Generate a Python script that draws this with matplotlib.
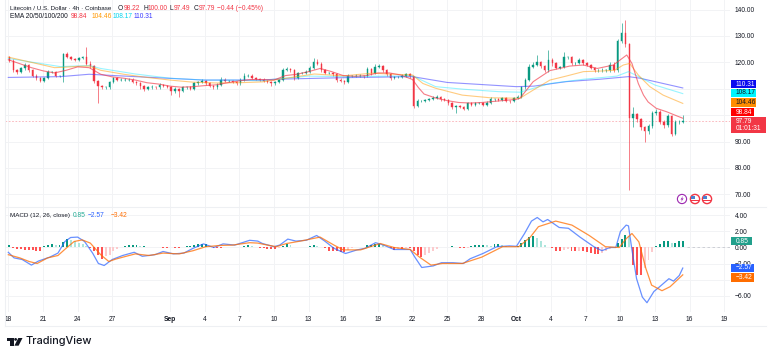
import numpy as np
import matplotlib
matplotlib.use('Agg')
import matplotlib.pyplot as plt
from matplotlib.patches import Rectangle, Circle, Polygon
from matplotlib.transforms import Affine2D

plt.rcParams['font.family'] = ['Liberation Sans', 'DejaVu Sans']

# 8h bars, one row per day from Aug 18 (close, upper wick, lower wick)
first_open = 122.0
closes = [
    120.5, 117, 116.5,   117.8, 119, 117,   115, 114, 113,   114, 116.5, 116.5,
    115, 115, 123,   122, 121.2, 121,   121.5, 122, 119.5,   118.5, 113, 111,
    110.5, 110.5, 112.5,   114, 113.5, 113.5,   113.5, 113.5, 112.6,   112, 111, 110,
    110.5, 110.8, 110.5,   111.5, 111, 110.8,   109, 110, 109,   110.5, 110.5, 110,
    112, 112.5, 113,   112, 111, 110.5,   111.5, 113.5, 113,   113, 112.5, 112,
    113.5, 115, 115,   114, 113.8, 113.5,   113, 112.5, 112,   112.7, 113.3, 117,
    117.5, 117, 114,   116, 116, 116.5,   118, 120.3, 119.5,   117, 116, 116,
    115.5, 113.5, 113,   112.7, 115, 115,   115, 115, 114.7,   117.5, 116, 118.4,
    118.6, 117, 115.5,   114, 114.5, 114.5,   115, 115.5, 114.7,   103.5, 105.5, 105.5,
    105.7, 106, 106.5,   107, 106, 105.7,   104.5, 103.2, 103.5,   103.2, 102.5, 104.5,
    104, 104.5, 104.5,   104, 104.7, 106,   106, 105.8, 106.4,   105.5, 105.2, 106.4,
    107, 110.5, 113.3,   118.4, 119, 120,   118.5, 117, 121,   119.6, 118, 118.3,
    122, 122, 119.6,   119.6, 120.9, 119.6,   119, 118, 117,   117, 117, 117,
    119, 117, 128,   131, 127, 99,   100.5, 98.5, 95.5,   94, 96, 100.7,
    101.3, 97.5, 96.3,   99.5, 93, 97.5,   97.5, 97.79,
]
wick_up = [
    0.5, 0.6, 0.5,   0.5, 0.8, 0.5,   0.4, 0.5, 0.4,   0.5, 0.8, 0.4,
    0.4, 0.4, 0.5,   1, 0.5, 0.6,   0.5, 0.6, 4,   1, 0.5, 0.5,
    0.5, 0.4, 0.5,   0.5, 0.5, 0.4,   0.4, 0.5, 0.4,   0.4, 0.4, 0.5,
    0.4, 0.5, 0.4,   0.5, 0.4, 0.4,   0.4, 0.5, 0.4,   0.5, 0.4, 0.4,
    0.5, 0.5, 0.6,   0.5, 0.4, 0.4,   0.5, 1, 0.5,   0.4, 0.4, 0.4,
    0.5, 0.8, 0.6,   0.5, 0.4, 0.4,   0.4, 0.4, 0.4,   0.4, 0.5, 0.9,
    0.8, 0.5, 0.5,   0.5, 0.5, 0.5,   0.8, 1.2, 1,   0.5, 0.5, 0.4,
    0.5, 0.5, 0.4,   0.4, 0.5, 0.4,   0.5, 0.5, 0.4,   0.8, 0.5, 1,
    0.8, 0.5, 0.4,   0.5, 0.4, 0.4,   0.5, 0.5, 0.6,   0.3, 0.5, 0.4,
    0.4, 0.5, 0.8,   0.5, 0.4, 0.4,   0.4, 0.4, 0.4,   0.4, 0.4, 0.5,
    0.4, 0.5, 0.4,   0.4, 0.5, 0.8,   0.5, 0.4, 0.5,   0.4, 0.4, 0.5,
    0.5, 0.5, 0.8,   1, 1, 2.8,   0.5, 0.5, 3.7,   0.5, 0.5, 0.5,
    2, 0.6, 0.5,   0.5, 0.8, 0.5,   0.4, 0.5, 0.4,   0.5, 0.8, 0.6,
    1, 1, 1,   4, 5, 0.3,   2.5, 0.5, 0.5,   0.5, 0.5, 0.8,
    1, 0.5, 0.5,   1, 0.5, 0.8,   0.6, 2.2,
]
wick_dn = [
    0.5, 0.5, 0.8,   0.4, 0.5, 0.8,   0.5, 0.8, 0.6,   0.5, 0.4, 0.4,
    0.5, 0.4, 2.6,   0.5, 0.4, 0.5,   0.4, 0.4, 0.5,   0.5, 0.8, 6.4,
    0.5, 0.6, 0.4,   0.4, 0.5, 0.4,   0.4, 0.5, 0.5,   0.5, 1, 1,
    0.5, 0.4, 0.5,   0.4, 0.5, 0.5,   1.3, 0.5, 2.2,   0.4, 0.5, 0.5,
    0.5, 0.4, 0.4,   0.5, 0.5, 0.5,   0.6, 0.4, 0.5,   0.4, 0.4, 0.5,
    0.4, 0.4, 0.5,   0.4, 0.4, 0.5,   0.5, 0.5, 0.8,   0.4, 0.4, 0.4,
    0.4, 0.5, 0.6,   0.4, 0.5, 0.4,   0.4, 0.4, 0.5,   0.6, 0.5, 0.5,
    0.5, 0.8, 0.6,   0.8, 0.4, 0.5,   0.5, 0.4, 0.5,   0.4, 0.6, 0.4,
    0.4, 0.5, 0.8,   0.6, 0.4, 0.5,   0.4, 0.4, 0.5,   0.9, 0.4, 0.5,
    0.4, 0.4, 0.4,   0.4, 0.5, 0.5,   0.6, 0.8, 2.5,   0.5, 0.5, 0.4,
    0.5, 0.4, 0.4,   0.5, 0.4, 0.4,   0.5, 0.5, 0.4,   0.5, 0.5, 0.4,
    0.4, 0.4, 0.4,   0.5, 0.5, 0.5,   0.5, 0.6, 0.5,   0.8, 0.6, 0.5,
    0.4, 0.6, 0.5,   0.5, 0.4, 0.5,   0.5, 0.6, 0.5,   0.6, 0.6, 0.5,
    0.5, 0.6, 0.5,   0.5, 1, 27.4,   3.4, 1, 1,   4, 1, 0.8,
    0.8, 0.8, 1,   0.8, 1, 0.5,   0.8, 0.5,
]
hist = [
    0.3, -0.1, -0.2,   -0.2, -0.3, -0.3,   -0.3, -0.4, -0.4,   0.2, 0.35, 0.4,
    0.3, 0.3, 0.7,   1.0, 0.9, 0.8,   0.5, 0.4, 0.2,   -0.1, -0.5, -0.9,
    -1.4, -1.1, -0.9,   -0.4, -0.2, 0.1,   0.2, 0.3, 0.3,   0.3, 0.2, 0.2,
    0.1, 0.1, 0.1,   0.1, -0.1, -0.1,   0.1, -0.1, -0.1,   0.1, 0.15, 0.2,
    0.3, 0.4, 0.4,   0.4, 0.2, -0.1,   -0.1, -0.1, 0.1,   0.1, 0.1, 0.1,
    0.1, 0.2, 0.3,   0.2, 0.1, -0.1,   -0.1, -0.2, -0.2,   -0.2, -0.1, 0.2,
    0.4, 0.3, 0.1,   0.05, 0.1, 0.1,   0.2, 0.25, 0.2,   0.1, -0.1, -0.4,
    -0.5, -0.5, -0.6,   -0.6, -0.3, -0.1,   0.05, 0.05, 0.1,   0.3, 0.3, 0.4,
    0.4, 0.3, 0.1,   -0.1, -0.3, -0.2,   -0.2, -0.1, -0.1,   -0.4, -1.0, -1.2,
    -0.9, -0.7, -0.4,   -0.2, 0.05, 0.1,   0.1, 0.2, 0.1,   -0.05, -0.1, -0.05,
    0.2, 0.3, 0.35,   0.35, 0.3, 0.2,   0.4, 0.45, 0.3,   0.2, 0.1, 0.05,
    0.2, 0.6, 0.9,   1.3, 1.4, 1.2,   0.8, 0.3, 0.1,   -0.1, -0.4, -0.5,
    -0.3, -0.2, -0.4,   -0.5, -0.4, -0.5,   -0.6, -0.7, -0.8,   -0.8, -0.7, -0.5,
    -0.2, 0.05, 0.6,   1.1, 1.5, 1.4,   -2.2, -3.4, -3.4,   -2.6, -1.5, -0.6,
    0.15, 0.4, 0.8,   0.85, 0.5, 0.5,   0.75, 0.85,
]

ema20_days = [0, 1, 2, 3, 4, 5, 6, 7, 8, 9, 10, 11, 12, 13, 14, 15, 16, 17, 18, 19, 20, 21, 22, 23,
              24, 25, 26, 27, 28, 29, 30, 31, 32, 33, 34, 35, 35.5, 36, 37, 38, 39, 40, 41, 42, 43, 44,
              44.3, 45.45, 46, 46.9, 47.75, 48.6, 49.8, 51, 52.4, 53, 53.55, 54, 54.55, 55, 55.4,
              56.1, 57, 57.9, 58.4]
ema20 = [121, 119.5, 118, 116.8, 116, 117, 118.3, 118, 115.5, 114.5, 114, 113.3, 112.3, 111.8, 111,
         110.6, 110.8, 111.2, 111.5, 112.3, 113, 113.5, 113.5, 113.3, 115, 115.5, 116.5, 117.7, 116.5,
         115, 114.7, 115, 116, 116, 115.2, 113.5, 110.5, 108, 106.5, 105.5, 104.8, 104.6, 104.8, 105.2,
         105.6, 106, 106.4, 112.7, 114.3, 116.9, 117.7, 118.6, 119, 117.7, 119, 121, 122.8, 119.6, 112,
         107.6, 105, 102.6, 101.3, 99.7, 98.84]
ema50_days = [0, 1, 2, 3, 4, 5, 6, 7, 8, 10, 12, 14, 16, 18, 20, 22, 23, 26.5, 29, 31.5, 35, 35.9,
              37, 39.3, 41.7, 44.3, 45.45, 46.9, 48.3, 49.8, 51.2, 52.5, 53.25, 53.8, 54.55, 55.55,
              56.7, 58.4]
ema50 = [122, 121, 120, 119, 118, 118.2, 118.5, 118.6, 117, 115.5, 114.3, 113.3, 112.5, 112.2, 112.3,
         112.6, 113.3, 115.6, 114.9, 115.9, 115.2, 112, 110.2, 107.6, 106.6, 106.4, 109.5, 113.3, 114.8,
         116.5, 116.7, 117, 119, 119.6, 115.2, 110.8, 107.6, 104.46]
ema100_days = [0, 4.5, 7, 8, 11, 14, 17, 19.5, 22, 23, 26, 29, 35, 37, 39.5, 42.5, 44.3, 46.9, 49.8,
               52.7, 53.7, 54.7, 56, 58.4]
ema100 = [121.5, 118.4, 118.8, 117.7, 115.6, 114, 113.3, 113.3, 113, 113.6, 114.8, 114.6, 114.9,
          110.8, 109.8, 108.9, 108.7, 112, 113.6, 114.8, 116.5, 114.3, 111.4, 108.17]
ema200_days = [0, 4.5, 7, 11, 17, 22, 23, 29, 35, 38, 44, 45.5, 48.3, 51.2, 53.7, 54.7, 58.4]
ema200 = [114.3, 114.6, 115.5, 114.6, 113.3, 113.3, 113.6, 114.2, 114.6, 112.4, 110.8, 111, 112.7,
          113.6, 114.6, 114, 110.31]

macd_days = [0, 0.5, 1.2, 2, 2.6, 3.6, 4.3, 4.9, 5.4, 6, 6.6, 7.3, 7.8, 8.3, 9, 9.9, 10.9, 11.6, 12.7,
             13.4, 14.3, 15.2, 16, 16.9, 17.8, 18.6, 19.6, 20.9, 21.6, 22, 23, 23.5, 24.2, 24.9, 25.8,
             26.7, 27.4, 28.2, 29.2, 30.2, 30.9, 31.8, 32.5, 33.4, 34.8, 35.2, 35.8, 36.8, 37.5, 38.5,
             39.4, 40, 41.1, 42.3, 43.4, 44, 44.7, 45.3, 45.8, 46.3, 46.7, 47.7, 48.5, 49.5, 50.7, 51.4,
             52.1, 52.6, 53, 53.5, 53.7, 54, 54.4, 54.9, 55.3, 55.9, 56.4, 57.2, 57.6, 58.1, 58.4]
macd = [-0.6, -1.3, -1.5, -2.2, -1.7, -1.2, -0.7, 0.75, 1.25, 1.3, 0.75, -0.7, -2, -2.25, -1.5, -1,
        -0.6, -1.1, -0.9, -0.5, -0.8, -0.7, -0.1, 0.45, 0, 0.45, 0.3, 0.9, 0.8, 0.5, 0.1, 0.3, 1.05,
        0.8, 0.9, 1.5, 0.8, -0.1, -0.75, -0.3, -0.1, 0.6, 0.3, -0.25, -0.25, -1.2, -2.5, -2.3, -1.9,
        -1.9, -2, -1.4, -0.75, 0.1, 0.2, 0.15, 1.75, 3.3, 3.75, 3.2, 3.5, 2.5, 2.4, 1.3, 0.1, -0.4,
        0, 0, 2, 2.8, 2.7, -0.3, -3.9, -6.2, -6.9, -5.5, -4.9, -3.9, -4.2, -3.5, -2.57]
signal_days = [0, 1, 1.8, 2.5, 3.4, 4.3, 5, 5.7, 6.4, 7.1, 8, 8.7, 9.3, 10.2, 11, 12.2, 13.4, 14.8,
               16, 17.1, 18.3, 19.4, 20.9, 21.6, 22.1, 23.2, 24.1, 25.3, 27, 28.2, 29, 30.5, 32.2, 33.4,
               34.8, 35.6, 36.6, 37.6, 39.3, 41, 42.8, 44.2, 45.2, 45.9, 47.4, 48.8, 50.3, 51.7, 52.9,
               53.5, 54, 54.6, 55.2, 55.7, 56.6, 57.3, 58.4]
signal = [-0.9, -1.3, -1.75, -2, -1.3, -1, -0.1, 0.75, 0.95, 0.55, -0.9, -1.75, -1.45, -1.1, -0.8,
          -1, -0.7, -0.8, -0.4, 0.1, 0.25, 0.3, 0.6, 0.55, 0.4, 0.1, 0.5, 0.8, 1.3, 0.3, -0.3, -0.3,
          0.5, 0, -0.25, -1.2, -2.2, -2, -2, -1.2, 0.1, 0.1, 1.3, 2.6, 3.3, 2.8, 1.5, 0.1, 0, 1.1,
          1.75, 0.7, -2.6, -4.7, -5.4, -4.9, -3.42]

tick_days = [0, 3, 6, 9, 14, 17, 20, 23, 26, 29, 32, 35, 38, 41, 44, 47, 50, 53, 56, 59, 62]
tick_labels = ['18', '21', '24', '27', 'Sep', '4', '7', '10', '13', '16', '19', '22', '25', '28',
               'Oct', '4', '7', '10', '13', '16', '19']
price_ticks = [70, 80, 90, 100, 110, 120, 130, 140]
price_labels = ['70.00', '80.00', '90.00', '', '', '120.00', '130.00', '140.00']
macd_ticks = [-6, -4, -2, 0, 2, 4]
macd_labels = ['\u22126.00', '', '\u22122.00', '0.00', '2.00', '4.00']
last_price = 97.79

UP = '#089981'
DOWN = '#F23645'
GRID = '#F2F3F5'
TEXT = '#131722'
W, H = 768, 358

fig = plt.figure(figsize=(W / 100, H / 100), dpi=100, facecolor='white')
# everything outside the panes is placed in reference pixels
px = Affine2D().scale(1 / W, -1 / H).translate(0, 1) + fig.transFigure


def pane(top, bottom):
    return fig.add_axes([5 / W, 1 - bottom / H, 725 / W, (bottom - top) / H])


ax = pane(0, 207)
ax2 = pane(207, 312)
xlim = (-0.286, 62.49)

n = len(closes)
x = np.arange(n) / 3 + 0.1
c = np.array(closes)
o = np.r_[first_open, c[:-1]]
hi = np.maximum(o, c) + np.array(wick_up)
lo = np.minimum(o, c) - np.array(wick_dn)
cols = [UP if b >= a else DOWN for a, b in zip(o, c)]

ax.vlines(x, lo, hi, colors=cols, lw=0.6, alpha=0.75, zorder=3)
ax.bar(x, np.abs(c - o), bottom=np.minimum(o, c), width=0.13, color=cols,
       edgecolor=cols, lw=0.3, zorder=4)
for d, v, col, a in [(ema200_days, ema200, '#3A3AFF', 0.55), (ema100_days, ema100, '#00E5FF', 0.4),
                     (ema50_days, ema50, '#FF9800', 0.5), (ema20_days, ema20, '#F23645', 0.65)]:
    ax.plot(d, v, color=col, lw=0.8, alpha=a, zorder=5)
ax.axhline(last_price, color='#F23645', lw=0.6, ls=(0, (2, 2)), alpha=0.4, zorder=2)
ax.set_ylim(65.2, 143.64)
ax.set_yticks(price_ticks)
ax.set_yticklabels(price_labels)

h = np.array(hist)
prev = np.r_[h[0], h[:-1]]
hcols = []
for a, b in zip(prev, h):
    if b >= 0:
        hcols.append('#089981' if b >= a else '#ACE5DC')
    else:
        hcols.append('#FF5252' if b <= a else '#FCCBCD')
ax2.bar(x, h, width=0.17, color=hcols, zorder=3)
ax2.plot(macd_days, macd, color='#2962FF', lw=0.9, alpha=0.7, zorder=5)
ax2.plot(signal_days, signal, color='#FF6D00', lw=0.9, alpha=0.75, zorder=6)
ax2.plot([x[-1] + 0.3, xlim[1]], [0, 0], color='#C8CAD0', lw=0.6, ls=(0, (3, 3)), zorder=2)
ax2.set_ylim(-8.06, 5.06)
ax2.set_yticks(macd_ticks)
ax2.set_yticklabels(macd_labels)

for a in (ax, ax2):
    a.set_xlim(*xlim)
    a.set_xticks(tick_days)
    a.grid(True, color=GRID, lw=0.7, zorder=0)
    a.set_axisbelow(True)
    a.yaxis.tick_right()
    a.tick_params(axis='y', length=0, pad=3.5, labelsize=4.8, labelcolor=TEXT)
    for s in a.spines.values():
        s.set_visible(False)
ax.tick_params(axis='x', length=0, labelbottom=False)
ax2.tick_params(axis='x', length=0, pad=3, labelsize=4.8, labelcolor=TEXT)
ax2.set_xticklabels(tick_labels)
for lab in ax2.get_xticklabels():
    if lab.get_text() in ('Sep', 'Oct'):
        lab.set_fontweight('bold')

# frame lines of the panes
for xs, ys in [((5, 766), (207, 207)), ((5, 766), (326, 326)), ((5, 5), (0, 326))]:
    fig.add_artist(plt.Line2D(xs, ys, color='#EEF0F3', lw=0.8, transform=px))


def label(xp, yp, s, color=TEXT, size=4.8, **kw):
    fig.text(xp, yp, s, color=color, fontsize=size, va='center', transform=px, zorder=20, **kw)


# legend rows
label(10, 8, 'Litecoin / U.S. Dollar \u00b7 4h \u00b7 Coinbase', size=4.5)
for xp, s, col in [(118, 'O', TEXT), (123.5, '98.22', DOWN), (143, 'H', TEXT), (147.5, '100.00', DOWN),
                   (170, 'L', TEXT), (173.5, '97.49', DOWN), (194, 'C', TEXT), (198.5, '97.79', DOWN),
                   (217, '\u22120.44 (\u22120.45%)', DOWN)]:
    label(xp, 8, s, col)
label(10, 16.7, 'EMA 20/50/100/200')
for xp, s, col in [(71, '98.84', '#F23645'), (92, '104.46', '#FF9800'), (113, '108.17', '#00D5EE'),
                   (134, '110.31', '#3A3AFF')]:
    label(xp, 16.7, s, col)
label(10, 215.5, 'MACD (12, 26, close)', size=4.5)
for xp, s, col in [(73, '0.85', '#22AB94'), (88, '\u22122.57', '#2962FF'), (111, '\u22123.42', '#FF6D00')]:
    label(xp, 215.5, s, col)


def tag(x1, y0, y1, s, bg, fg='white'):
    fig.add_artist(Rectangle((731, y0), x1 - 731, y1 - y0, fc=bg, ec='none', transform=px, zorder=15))
    label(736, (y0 + y1) / 2 + 0.2, s, fg)


tag(756, 80, 88.3, '110.31', '#0A0AF0')
tag(756, 88.5, 97, '108.17', '#00F5FF', TEXT)
tag(756, 98, 106.5, '104.46', '#FF8C00', TEXT)
tag(754, 108, 116.3, '98.84', '#FF0000')
fig.add_artist(Rectangle((731, 117), 35, 16, fc='#F23645', ec='none', transform=px, zorder=15))
label(736, 121.5, '97.79', 'white')
label(736, 129, '01:01:31', 'white')
tag(752, 236.7, 245, '0.85', '#22A08C')
tag(754, 263.5, 272, '\u22122.57', '#2962FF')
tag(754, 273, 282, '\u22123.42', '#FF6D00')

# event icons above the MACD pane
fig.add_artist(Circle((682, 199), 4.6, fc='white', ec='#9C27B0', lw=0.8, transform=px, zorder=12))
fig.add_artist(Polygon([(683, 195.8), (680.5, 199.6), (682, 199.6), (681, 202.2), (683.6, 198.4), (682.1, 198.4)],
                       fc='#9C27B0', ec='none', transform=px, zorder=13))
for cx in (695, 707):
    fig.add_artist(Circle((cx, 199), 4.6, fc='white', ec='#F23645', lw=1, transform=px, zorder=12))
    fig.add_artist(Rectangle((cx - 3.6, 196), 3.8, 3, fc='#4A7FD0', ec='none', transform=px, zorder=13))
    fig.add_artist(Rectangle((cx - 3.6, 200), 7.2, 1.2, fc='#F23645', ec='none', transform=px, zorder=13))

# TradingView mark
for pts in [[(6.7, 338), (13.5, 338), (13.5, 345.7), (10, 345.7), (10, 340.8), (6.7, 340.8)],
            [(18.3, 338), (22.5, 338), (18.6, 345.7), (14.4, 345.7)]]:
    fig.add_artist(Polygon(pts, fc='#131722', ec='none', transform=px))
fig.add_artist(Circle((15.6, 339.4), 1.4, fc='#131722', ec='none', transform=px))
label(26, 341.5, 'TradingView', '#131722', 7.9, family=['Inter', 'DejaVu Sans'], fontweight='medium')

fig.savefig('out.png', dpi=100)
